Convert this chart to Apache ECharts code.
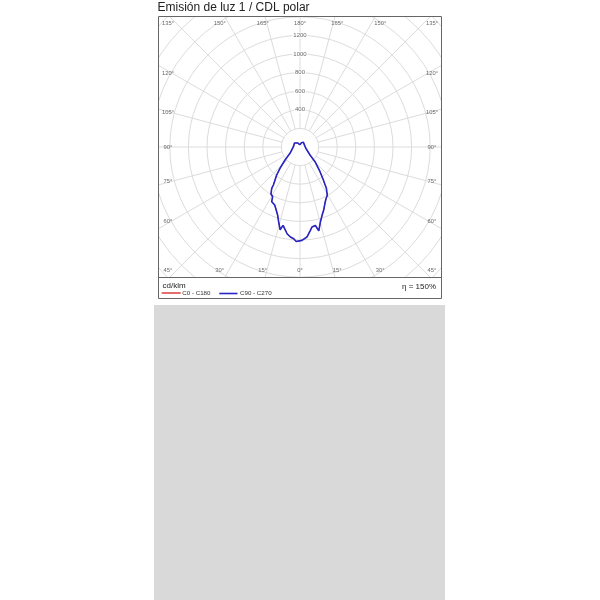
<!DOCTYPE html>
<html>
<head>
<meta charset="utf-8">
<script src="https://cdn.jsdelivr.net/npm/echarts@6/dist/echarts.min.js"></script>
<style>
html,body{margin:0;padding:0;background:#fff;}
#c{width:600px;height:600px;}
</style>
</head>
<body>
<div id="c"></div>
<script>
// ---------------- DATA ----------------
const titleText = 'Emisión de luz 1 / CDL polar';
const unitText = 'cd/klm';
const effText = 'η = 150%';
const seriesNames = ['C0 - C180', 'C90 - C270'];
const angleTicks = [0, 15, 30, 45, 60, 75, 90, 105, 120, 135, 150, 165, 180];
const radialTicks = [400, 600, 800, 1000, 1200];

// C90 half-plane (right side): gamma angle (deg from nadir) and intensity (cd/klm)
const gammaC90 = [0, 1.2, 3.4, 4.4, 7.1, 8.5, 11.1, 12.6, 15.2, 17.9, 20.6, 23.9, 26.5, 28.1, 29.5, 31.2, 32.6, 33.5, 35.3, 39.0, 45.6, 51.3, 80, 125.5, 144, 164, 180];
const intensityC90 = [1022, 1004, 988, 971, 903, 870, 860, 925, 836, 772, 724, 662, 625, 580, 596, 555, 527, 490, 435, 342, 226, 138, 62, 55, 62, 47, 22];

// C270 half-plane (left side)
const gammaC270 = [0, 2.3, 3.9, 6.1, 8.5, 9.9, 12.2, 13.5, 15.9, 18.1, 20.7, 23.6, 27.4, 28.8, 31.7, 34.4, 35.0, 39.8, 43.2, 49.1, 57.8, 92.6, 126, 134.4, 150, 180];
const intensityC270 = [1022, 1017, 988, 973, 943, 909, 862, 915, 838, 773, 724, 680, 662, 610, 594, 538, 499, 392, 314, 213, 127, 71, 73, 72, 50, 22];

// ---------------- LAYOUT ----------------
const CX = 300, CY = 147;
const R_MIN = 200, R_MAX = 2200, R_STEP = 200;
const PX_PER_CD = 0.093;
const R0 = R_MIN * PX_PER_CD, R1 = R_MAX * PX_PER_CD;
const FONT = '"Liberation Sans", Arial, Helvetica, sans-serif';
const BOX = {x: 158, y: 16, w: 284, h: 282, plotBottom: 277};
const GRID = '#dcdcdc';
const BLUE = '#2626c4';
const RED = '#e04848';

// curve: right half from top down to nadir, then left half from nadir up
const right = gammaC90.map((g, i) => [intensityC90[i], g]).reverse();
const left = gammaC270.map((g, i) => [intensityC270[i], 360 - g]);
const curve = right.concat(left);

// angle labels sit on a rectangle around the diagram
function labelOffset(g, side) {
  const rad = g * Math.PI / 180;
  let dx, dy;
  if (g <= 45) { dy = 123.5; dx = Math.min(139 * Math.tan(rad), 132); }
  else if (g >= 135) { dy = -123.5; dx = Math.min(139 * Math.tan(Math.PI - rad), 132); }
  else { dx = 132; dy = 128 / Math.tan(rad); }
  return [dx * side, dy];
}
const angleLabelData = [];
angleTicks.forEach(g => {
  const sides = (g === 0 || g === 180) ? [1] : [1, -1];
  sides.forEach(s => {
    const [dx, dy] = labelOffset(g, s);
    let th = Math.atan2(dx, dy) * 180 / Math.PI;
    if (th < 0) th += 360;
    angleLabelData.push({value: [Math.hypot(dx, dy) / PX_PER_CD, th], name: g + '°'});
  });
});
const radialLabelData = radialTicks.map(v => ({value: [v, 180], name: String(v)}));

const chart = echarts.init(document.getElementById('c'), null, {renderer: 'canvas'});

const txt = (text, x, y, size, align, color) => ({
  type: 'text', z: 102,
  style: {text: text, x: x, y: y, font: size + 'px ' + FONT, fill: color || '#222',
          align: align || 'left', textAlign: align || 'left',
          verticalAlign: 'middle', textVerticalAlign: 'middle'}
});
const mask = (x, y, w, h) => ({type: 'rect', z: 100, shape: {x: x, y: y, width: w, height: h}, style: {fill: '#fff'}});
const hline = (x1, x2, y, color, w) => ({type: 'line', z: 102, shape: {x1: x1, y1: y, x2: x2, y2: y}, style: {stroke: color, lineWidth: w}});
const hiddenAxis = {axisLine: {show: false}, axisTick: {show: false}, axisLabel: {show: false}, splitLine: {show: false}};

chart.setOption({
  animation: false,
  backgroundColor: '#fff',
  polar: [
    {center: [CX, CY], radius: [R0, R1]},   // grid: circles 200..2200, rays from 200
    {center: [CX, CY], radius: [0, R1]}     // data: same scale, from the centre
  ],
  angleAxis: [
    Object.assign({}, hiddenAxis, {
      polarIndex: 0, type: 'value', min: 0, max: 360, interval: 15,
      startAngle: -90, clockwise: false,
      splitLine: {show: true, lineStyle: {color: GRID, width: 1}}
    }),
    Object.assign({}, hiddenAxis, {
      polarIndex: 1, type: 'value', min: 0, max: 360, interval: 15,
      startAngle: -90, clockwise: false
    })
  ],
  radiusAxis: [
    Object.assign({}, hiddenAxis, {
      polarIndex: 0, type: 'value', min: R_MIN, max: R_MAX, interval: R_STEP,
      splitLine: {show: true, lineStyle: {color: GRID, width: 1}}
    }),
    Object.assign({}, hiddenAxis, {
      polarIndex: 1, type: 'value', min: 0, max: R_MAX, interval: R_STEP
    })
  ],
  series: [
    {
      name: seriesNames[0], type: 'line', coordinateSystem: 'polar', polarIndex: 1,
      data: curve, showSymbol: false, clip: false, z: 3,
      lineStyle: {color: RED, width: 1}
    },
    {
      name: seriesNames[1], type: 'line', coordinateSystem: 'polar', polarIndex: 1,
      data: curve, showSymbol: false, clip: false, z: 4,
      lineStyle: {color: BLUE, width: 1.6}
    },
    {
      type: 'scatter', coordinateSystem: 'polar', polarIndex: 1, data: angleLabelData,
      symbolSize: 1, itemStyle: {color: 'rgba(0,0,0,0)'}, z: 5, silent: true,
      label: {show: true, position: 'inside', formatter: p => p.name,
              fontSize: 5.8, color: '#444', fontFamily: FONT}
    },
    {
      type: 'scatter', coordinateSystem: 'polar', polarIndex: 1, data: radialLabelData,
      symbolSize: 1, itemStyle: {color: 'rgba(0,0,0,0)'}, z: 5, silent: true,
      label: {show: true, position: 'inside', formatter: p => p.name,
              fontSize: 6, color: '#444', fontFamily: FONT,
              backgroundColor: '#fff', padding: [0, 1]}
    }
  ],
  graphic: {elements: [
    mask(0, 0, 600, BOX.y),
    mask(0, 0, BOX.x, 600),
    mask(BOX.x + BOX.w, 0, 600 - BOX.x - BOX.w, 600),
    mask(0, BOX.plotBottom, 600, 600 - BOX.plotBottom),
    {type: 'rect', z: 102, shape: {x: BOX.x + 0.5, y: BOX.y + 0.5, width: BOX.w - 1, height: BOX.h},
     style: {fill: 'none', stroke: '#666', lineWidth: 1}},
    hline(BOX.x + 0.5, BOX.x + BOX.w - 0.5, BOX.plotBottom + 0.5, '#666', 1),
    {type: 'rect', z: 102, shape: {x: 154, y: 305, width: 291, height: 295}, style: {fill: '#d9d9d9'}},
    txt(titleText, 157.5, 7.5, 12, 'left', '#222'),
    txt(unitText, 162.5, 286, 8, 'left', '#222'),
    hline(161.7, 180.7, 293, RED, 1.6),
    txt(seriesNames[0], 182.3, 293, 6.2, 'left', '#333'),
    hline(219.3, 237.5, 293.5, BLUE, 1.6),
    txt(seriesNames[1], 240, 293.5, 6.2, 'left', '#333'),
    txt(effText, 436, 287, 8, 'right', '#222')
  ]}
});
</script>
</body>
</html>
